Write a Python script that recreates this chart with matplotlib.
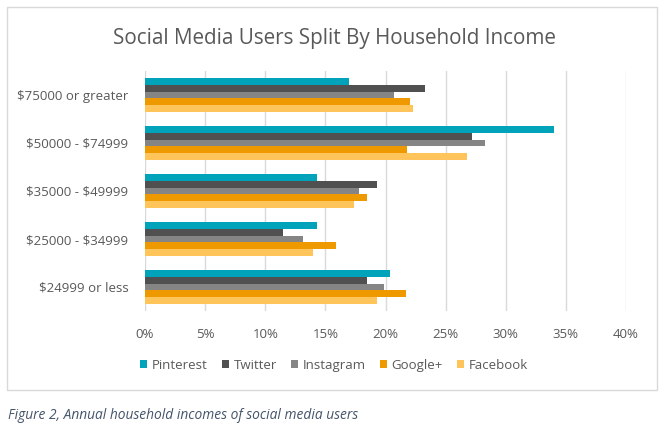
import matplotlib
matplotlib.use("Agg")
import matplotlib.pyplot as plt
import numpy as np
from matplotlib.patches import Rectangle

categories = ["$24999 or less", "$25000 - $34999", "$35000 - $49999",
              "$50000 - $74999", "$75000 or greater"]
series_names = ["Pinterest", "Twitter", "Instagram", "Google+", "Facebook"]
pinterest = [20.4, 14.3, 14.3, 34.0, 17.0]
twitter = [18.5, 11.5, 19.3, 27.2, 23.3]
instagram = [19.9, 13.1, 17.8, 28.3, 20.7]
googleplus = [21.7, 15.9, 18.5, 21.8, 22.0]
facebook = [19.3, 14.0, 17.4, 26.8, 22.3]
xticks = [0, 5, 10, 15, 20, 25, 30, 35, 40]

colors = ["#00A3B9", "#505050", "#858585", "#EE9900", "#FFC55B"]
series = [pinterest, twitter, instagram, googleplus, facebook]

plt.rcParams['font.family'] = ['Open Sans', 'DejaVu Sans']
plt.rcParams['text.parse_math'] = False
txt = "#595959"

fig = plt.figure(figsize=(6.68, 4.40), dpi=100)
fig.patches.append(Rectangle((7/668, 1-390/440), 650/668, 383/440,
                             transform=fig.transFigure, fill=False,
                             edgecolor="#D9D9D9", linewidth=1.0))

ax = fig.add_axes([145/668, 1-311/440, 481/668, 240/440])
y = np.arange(len(categories))
h = 0.142
for i, (name, vals, c) in enumerate(zip(series_names, series, colors)):
    ax.barh(y + (2 - i) * h, vals, height=h, color=c, label=name, zorder=3)

ax.set_xlim(0, 40)
ax.set_ylim(-0.5, 4.5)
ax.set_xticks(xticks)
ax.set_xticklabels([f"{t}%" for t in xticks])
ax.set_yticks(y)
ax.set_yticklabels(categories)
ax.grid(axis="x", color="#D9D9D9", linewidth=1.0, zorder=0)
for s in ax.spines.values():
    s.set_visible(False)
ax.tick_params(axis="both", length=0, labelsize=9.5, colors=txt)
ax.tick_params(axis="y", pad=12)
ax.tick_params(axis="x", pad=12)

fig.text(0.5, 1-38/440, "Social Media Users Split By Household Income",
         ha="center", va="center", fontsize=14.9, color=txt)

handles, labels = ax.get_legend_handles_labels()
leg = fig.legend(handles, labels, loc="center", bbox_to_anchor=(0.5, 1-365/440),
                 ncol=5, frameon=False, fontsize=9.5, handlelength=0.55,
                 handleheight=0.55, handletextpad=0.35, columnspacing=1.05)
for t in leg.get_texts():
    t.set_color(txt)

fig.text(8/668, 1-415/440, "Figure 2, Annual household incomes of social media users",
         ha="left", va="center", fontsize=9.9, style="italic", color="#44546A")

fig.savefig("out.png", dpi=100)
